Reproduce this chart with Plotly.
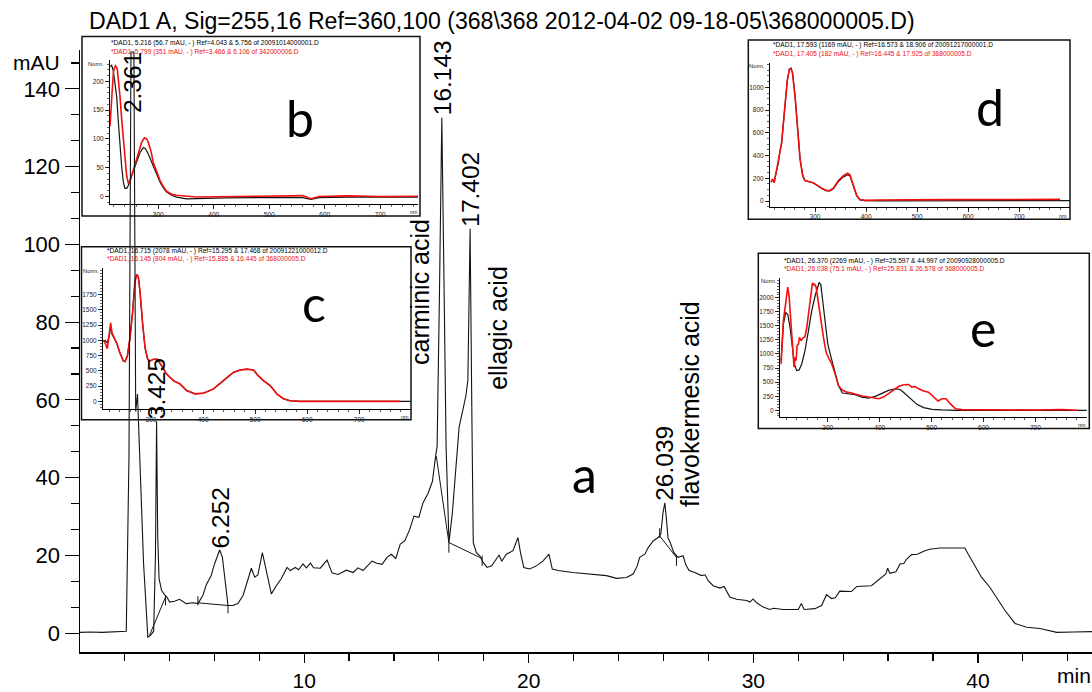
import plotly.graph_objects as go

# ---------------- main chromatogram (DAD1 A, 255 nm) ----------------
time_min = [0.0, 0.5, 1.0, 1.5, 2.08, 2.20, 2.25, 2.29, 2.42, 2.45,
            2.50, 2.58, 2.70, 2.85, 3.04, 3.15, 3.30, 3.38, 3.43, 3.48,
            3.54, 3.65, 3.80, 3.89, 4.01, 4.23, 4.45, 4.60, 4.75, 5.05,
            5.27, 5.49, 5.64, 5.86, 6.01, 6.24, 6.36, 6.49, 6.61, 6.83,
            7.05, 7.28, 7.50, 7.65, 7.80, 7.94, 8.14, 8.32, 8.54, 8.76,
            8.98, 9.24, 9.38, 9.61, 9.75, 9.95, 10.10, 10.28, 10.42, 10.72,
            11.02, 11.24, 11.51, 11.88, 12.18, 12.40, 12.62, 13.02, 13.24, 13.47,
            13.69, 13.88, 14.08, 14.28, 14.48, 14.70, 14.89, 15.11, 15.29, 15.52,
            15.71, 15.86, 15.92, 16.02, 16.13, 16.24, 16.32, 16.45, 16.60, 16.75,
            16.90, 17.05, 17.20, 17.29, 17.39, 17.47, 17.53, 17.67, 17.82, 17.97,
            18.14, 18.35, 18.56, 18.68, 18.80, 19.00, 19.30, 19.52, 19.63, 19.78,
            20.04, 20.34, 20.64, 20.90, 21.05, 21.31, 21.97, 22.86, 23.46, 23.91,
            24.35, 24.65, 24.83, 24.94, 25.17, 25.32, 25.54, 25.76, 25.88, 25.98,
            26.06, 26.12, 26.20, 26.30, 26.46, 26.65, 26.87, 27.00, 27.14, 27.39,
            27.69, 27.85, 27.99, 28.21, 28.51, 28.70, 28.80, 28.95, 29.25, 29.40,
            29.70, 29.85, 29.99, 30.15, 30.44, 30.73, 30.90, 31.33, 32.00, 32.14,
            32.26, 32.74, 33.04, 33.26, 33.48, 33.65, 33.85, 34.37, 34.60, 35.26,
            35.63, 35.90, 35.98, 36.08, 36.35, 36.53, 36.70, 36.82, 37.05, 37.30,
            37.64, 37.86, 38.31, 39.05, 39.42, 39.57, 39.79, 40.16, 40.53, 40.83,
            41.20, 41.65, 42.17, 42.76, 43.51, 44.25, 45.08]
signal_mau = [0.2, 0.3, 0.2, 0.4, 0.5, 45, 110, 149.5, 149.5, 95,
              57, 61.5, 40, 18, -1.0, -0.6, 0.5, 20, 54.5, 25,
              14, 11, 9.8, 9.3, 8.0, 8.2, 8.7, 8.2, 7.6, 7.8,
              7.6, 9.7, 12.4, 14.8, 17.8, 21.4, 19.5, 13.1, 7.1, 7.1,
              7.6, 9.7, 14.0, 16.7, 14.4, 15.0, 20.7, 15.6, 10.1, 12.2,
              14.0, 16.9, 16.1, 16.9, 16.3, 17.8, 16.8, 18.0, 16.8, 16.7,
              18.8, 15.5, 15.1, 16.2, 15.6, 16.8, 16.1, 18.5, 18.0, 17.7,
              19.5, 20.3, 19.2, 22.9, 23.7, 26.7, 30.1, 29.8, 33.5, 36.0,
              39.0, 45.8, 48.0, 85, 132.6, 85, 48, 23.3, 31, 42,
              53, 57, 61, 65, 104, 55, 23.3, 20.7, 19.9, 18.2,
              16.9, 17.3, 19.0, 20.1, 18.5, 20.3, 21.2, 24.6, 20.8, 16.9,
              16.5, 17.3, 18.6, 20.3, 16.5, 16.1, 15.6, 15.2, 14.8, 14.1,
              14.3, 15.2, 17.3, 19.5, 20.3, 22.0, 23.7, 24.6, 25.5, 31,
              33.5, 30, 24.5, 23.3, 20.7, 19.5, 19.9, 17.5, 16.1, 15.6,
              14.8, 15.0, 13.5, 12.2, 11.6, 12.0, 11.0, 9.3, 8.7, 8.6,
              8.4, 8.0, 8.8, 7.8, 6.7, 6.1, 6.4, 6.1, 6.1, 7.6,
              6.1, 6.3, 7.1, 9.9, 8.9, 9.1, 10.8, 10.7, 12.0, 12.2,
              14.0, 15.2, 16.7, 15.4, 15.8, 17.8, 17.9, 19.0, 20.2, 20.3,
              21.2, 21.6, 21.9, 21.9, 21.9, 20.3, 18.2, 14.4, 11.8, 9.3,
              5.9, 2.5, 1.5, 1.2, 0.2, 0.3, 0.4]

# integration baselines (start -> end of integrated peaks)
base_t = [3.12, 3.83, None, 5.27, 6.61, None, 15.885, 16.445, None, 16.445, 17.925, None, 25.831, 26.578]
base_y = [-0.5, 9.3, None, 7.8, 7.1, None, 45.5, 23.3, None, 23.3, 19.2, None, 25.0, 19.5]
# peak start / end tick marks
mark_t = [3.83, 3.83, None, 5.27, 5.27, None, 6.61, 6.61, None, 16.445, 16.445, None,
          17.925, 17.925, None, 25.831, 25.831, None, 26.578, 26.578]
mark_y = [9.7, 7.1, None, 9.5, 7.1, None, 7.1, 5.1, None, 23.3, 20.7, None,
          19.9, 17.3, None, 27.0, 24.5, None, 19.9, 17.3]

peak_rt = [2.361, 3.425, 6.252, 16.143, 17.402, 26.039]
peak_top = [150.0, 54.5, 21.4, 132.6, 104.0, 33.5]
peak_text = ["2.361", "3.425", "6.252", "16.143", "17.402", "26.039"]

compound_names = ["carminic acid", "ellagic acid", "flavokermesic acid"]
compound_t = [15.19, 18.62, 27.17]
compound_y = [68.4, 62.0, 31.9]

x_ticks = [10, 20, 30, 40]
y_ticks = [0, 20, 40, 60, 80, 100, 120, 140]

# ---------------- inset b : UV-Vis spectra ----------------
b_black_nm = [213, 216, 219, 222, 225, 228, 231, 234, 237, 240, 243, 246, 252, 261, 267, 273, 277, 282,
              287, 291, 297, 303, 309, 315, 324, 333, 351, 380, 420, 480, 540, 560, 575, 590, 640, 700, 771]
b_black_val = [226, 228, 218, 200, 174, 130, 88, 52, 25, 14, 14, 19, 36, 59, 76, 85, 83, 74,
               62, 51, 37, 25, 15, 7.5, 2, -1, -4, -3, -2.5, -2, -1.5, -2, -5, -2, -1, -1.5, -1]
b_red_nm = [213, 215, 217, 219, 221, 223, 226, 228, 231, 234, 237, 240, 243, 246, 249, 252, 258, 264,
            270, 275, 279, 282, 287, 291, 297, 303, 309, 315, 324, 333, 369, 420, 480, 540, 560, 575,
            590, 640, 700, 771]
b_red_val = [122, 160, 195, 215, 224, 227, 222, 205, 174, 135, 99, 62, 36, 23, 27, 36, 55, 75,
             94, 102, 100, 94, 78, 59, 42, 28, 17, 9, 4, 2, -1, 0, 0.5, 1, 1.5, -4,
             0, 1, 0, 0.5]

# ---------------- inset c ----------------
c_red_nm = [208, 211.5, 216, 220, 222.4, 225, 230.8, 235, 240, 246.8, 250, 254.5, 259.6, 264.7, 269,
            272.4, 275.6, 278.8, 284, 288.5, 293.6, 298, 304.5, 312, 320.5, 330, 343, 355.8, 368.6,
            384.6, 400.6, 420, 439, 458, 471, 484, 497, 506, 516, 529, 541.7, 554.5, 567, 586.5, 779]
c_red_val = [1000, 961, 864, 1096, 1285, 1123, 1015, 934, 799, 664, 653, 745, 1042, 1474, 1960,
             2079, 2041, 1798, 1258, 880, 691, 664, 691, 691, 583, 448, 340, 286, 178,
             124, 135, 205, 340, 475, 513, 529, 513, 421, 340, 259, 124, 43, 11, 0, 0]
c_black_nm = [208, 212, 216, 220, 222.4, 225, 230.8, 235, 240, 246.8, 250, 254.5, 259.6, 264.7, 269,
              272.4, 275.6, 278.8, 284, 288.5, 293.6, 298, 304.5, 312, 320.5, 330, 343, 355.8, 368.6,
              384.6, 400.6, 420, 439, 458, 471, 484, 497, 506, 516, 529, 541.7, 554.5, 567, 586.5, 799]
c_black_val = [990, 1000, 960, 1080, 1230, 1100, 1010, 930, 795, 662, 650, 740, 1040, 1470, 1955,
               2078, 2040, 1795, 1255, 878, 690, 662, 690, 690, 580, 445, 338, 284, 176,
               122, 133, 203, 338, 473, 511, 527, 511, 419, 338, 257, 122, 41, 10, 0, 0]

# ---------------- inset d ----------------
d_red_nm = [213.7, 217, 220, 224.8, 228, 231.4, 234.6, 238, 241, 245.7, 249.7, 253, 256, 260.8, 266,
            270.6, 275.8, 280, 287, 296.7, 303, 313, 323, 329, 336, 345.8, 355.6, 364, 368.6, 375,
            381.7, 388, 398, 424, 489.5, 555, 780]
d_red_val = [165, 194, 160, 281, 339, 455, 513, 687, 861, 1064, 1157, 1166, 1122, 919, 629,
             368, 223, 180, 171, 160, 142, 113, 93, 93, 113, 180, 223, 244, 229, 136,
             49, 14, 6, 9, 12, 12, 14]
d_black_nm = [213.7, 217, 220, 224.8, 228, 231.4, 234.6, 238, 241, 245.7, 249.7, 253, 256, 260.8, 266,
              270.6, 275.8, 280, 287, 296.7, 303, 313, 323, 329, 336, 345.8, 355.6, 364, 368.6, 375,
              381.7, 388, 398, 424, 489.5, 555, 799]
d_black_val = [175, 180, 175, 270, 330, 440, 510, 680, 850, 1058, 1160, 1169, 1128, 930, 640,
               375, 228, 182, 172, 158, 140, 110, 90, 90, 108, 172, 212, 232, 220, 130,
               45, 10, 3, 2, 2, 3, 3]

# ---------------- inset e ----------------
e_black_nm = [210, 214.4, 219, 222.8, 227.3, 231.8, 235.6, 240, 244.7, 249.8,
              256, 262.7, 269, 275.5, 279.4, 283.3, 286.5, 290.3, 294.9, 300,
              306.4, 314, 320.6, 328, 340, 352.8, 365.6, 378.5, 391.4, 404,
              417, 430, 439.6, 449, 459, 471.8, 484.7, 500.8, 520, 545.8, 799]
e_black_val = [882, 1529, 1735, 1705, 1470, 1117, 823, 706, 717, 823,
               1058, 1411, 1764, 2029, 2146, 2269, 2234, 1940, 1529, 1176,
               941, 647, 441, 306, 294, 276, 235, 218, 247, 306,
               353, 382, 370, 294, 206, 106, 47, 18, 6, 0, 0]
e_red_nm = [210, 214.4, 219, 222.8, 225.4, 229, 231.8, 235, 237, 238.9,
            240.8, 243.4, 245.3, 248.5, 251.7, 256, 259.5, 262.7, 267.2, 270.4,
            272.5, 274.3, 277.5, 282, 286.5, 291.6, 296.8, 302.6, 307.7, 314,
            320.6, 327, 336.7, 346, 356, 365.6, 378.5, 391.4, 397.8, 407.5,
            417, 426.8, 436.4, 446, 455.7, 462, 468.6, 475, 484.7, 494.3,
            504, 512.4, 520, 527.8, 536, 545.8, 558.7, 600, 650, 700,
            750, 780.7]
e_red_val = [823, 1588, 1911, 2187, 2029, 1529, 1176, 764, 941, 882,
             1147, 1176, 1294, 1235, 1282, 1305, 1470, 1705, 2058, 2264,
             2220, 2246, 2187, 1940, 1617, 1294, 1029, 911, 823, 647,
             441, 365, 323, 306, 276, 253, 235, 223, 206, 235,
             294, 365, 423, 453, 459, 412, 423, 382, 341, 323,
             235, 165, 206, 206, 118, 29, 12, 8, 12, 5,
             15, 0]

inset_headers = {
    "b": ["*DAD1, 5.216 (56.7 mAU, - ) Ref=4.043 & 5.756 of 20091014000001.D",
          "*DAD1, 5.799 (351 mAU, - ) Ref=3.466 & 6.106 of 342000006.D"],
    "c": ["*DAD1, 16.715 (2078 mAU, - ) Ref=15.295 & 17.468 of 20091221000012.D",
          "*DAD1, 16.145 (804 mAU, - ) Ref=15.885 & 16.445 of 368000005.D"],
    "d": ["*DAD1, 17.593 (1169 mAU, - ) Ref=16.573 & 18.906 of 20091217000001.D",
          "*DAD1, 17.405 (182 mAU, - ) Ref=16.445 & 17.925 of 368000005.D"],
    "e": ["*DAD1, 26.370 (2269 mAU, - ) Ref=25.597 & 44.997 of 20090928000005.D",
          "*DAD1, 26.038 (75.1 mAU, - ) Ref=25.831 & 26.578 of 368000005.D"],
}
title_text = "DAD1 A, Sig=255,16 Ref=360,100 (368\\368 2012-04-02 09-18-05\\368000005.D)"

for a, b in [(time_min, signal_mau), (b_black_nm, b_black_val), (b_red_nm, b_red_val),
             (c_red_nm, c_red_val), (c_black_nm, c_black_val), (d_red_nm, d_red_val),
             (d_black_nm, d_black_val), (e_black_nm, e_black_val), (e_red_nm, e_red_val)]:
    assert len(a) == len(b), (len(a), len(b))

# ---------------- geometry helpers (pixel -> paper) ----------------
W, H = 1092, 692
L, R, T, B = 80, 1092, 50, 657


def xd(px):
    return (px - L) / (R - L)


def yd(py):
    return (B - py) / (B - T)


FONT = "Liberation Sans, Arial, sans-serif"
BLACK = "#141414"
RED = "#f01010"

fig = go.Figure()

# inset subplots first (drawn underneath the chromatogram)
insets = [
    ("b", "", (110, 418, 205, 60), [213, 768], [-12.6, 237.4], [0, 50, 100, 150, 200], 10,
     (b_black_nm, b_black_val), (b_red_nm, b_red_val)),
    ("c", "2", (103, 411, 412, 270), [207.7, 799.5], [-125, 2182],
     [0, 250, 500, 750, 1000, 1250, 1500, 1750], 50,
     (c_black_nm, c_black_val), (c_red_nm, c_red_val)),
    ("d", "3", (770, 1070, 208, 63), [211.8, 799.5], [-50, 1215],
     [0, 200, 400, 600, 800, 1000], 50,
     (d_black_nm, d_black_val), (d_red_nm, d_red_val)),
    ("e", "4", (780, 1087, 420, 280), [207.9, 799.5], [-118, 2347],
     [0, 250, 500, 750, 1000, 1250, 1500, 1750, 2000], 50,
     (e_black_nm, e_black_val), (e_red_nm, e_red_val)),
]

layout_axes = {}
for key, sfx, box, xr, yr, yt, ymin, blk, red in insets:
    xa, ya = "x" + sfx, "y" + sfx
    fig.add_trace(go.Scatter(x=blk[0], y=blk[1], mode="lines", xaxis=xa, yaxis=ya,
                             line=dict(color=BLACK, width=1.2), hoverinfo="skip"))
    fig.add_trace(go.Scatter(x=red[0], y=red[1], mode="lines", xaxis=xa, yaxis=ya,
                             line=dict(color=RED, width=1.6), hoverinfo="skip"))
    x0, x1, yb, ytp = box
    common = dict(showline=True, linecolor="black", linewidth=1, ticks="outside", ticklen=4,
                  tickwidth=0.8, tickcolor="black", showgrid=False, zeroline=False,
                  tickfont=dict(family=FONT, size=6.5, color="#222"), fixedrange=True)
    layout_axes["xaxis" + sfx] = dict(common, domain=[xd(x0), xd(x1)], anchor=ya, range=xr,
                                     tickvals=[300, 400, 500, 600, 700],
                                     minor=dict(dtick=20, tick0=0, ticks="outside", ticklen=2,
                                                tickcolor="black", tickwidth=0.6))
    layout_axes["yaxis" + sfx] = dict(common, domain=[yd(yb), yd(ytp)], anchor=xa, range=yr,
                                     tickvals=yt,
                                     minor=dict(dtick=ymin, tick0=0, ticks="outside", ticklen=2,
                                                tickcolor="black", tickwidth=0.6))

# main chromatogram on top
fig.add_trace(go.Scatter(x=time_min, y=signal_mau, mode="lines", xaxis="x5", yaxis="y5",
                         line=dict(color=BLACK, width=1.1), hoverinfo="skip"))
fig.add_trace(go.Scatter(x=base_t, y=base_y, mode="lines", xaxis="x5", yaxis="y5",
                         line=dict(color=BLACK, width=1), connectgaps=False, hoverinfo="skip"))
fig.add_trace(go.Scatter(x=mark_t, y=mark_y, mode="lines", xaxis="x5", yaxis="y5",
                         line=dict(color=BLACK, width=1), connectgaps=False, hoverinfo="skip"))

layout_axes["xaxis5"] = dict(domain=[0, 1], anchor="y5", range=[0.02, 45.08], showline=True,
                             linecolor="black", linewidth=1.5, ticks="outside", ticklen=9,
                             tickwidth=1.2, tickcolor="black", tickvals=x_ticks,
                             ticktext=[str(v) for v in x_ticks],
                             tickfont=dict(family=FONT, size=21, color="black"),
                             minor=dict(dtick=2, tick0=0, ticks="outside", ticklen=7,
                                        tickcolor="black", tickwidth=1.2),
                             showgrid=False, zeroline=False, fixedrange=True)
layout_axes["yaxis5"] = dict(domain=[0, 1], anchor="x5", range=[-4.85, 150], showline=True,
                             linecolor="black", linewidth=1.5, ticks="outside", ticklen=14,
                             tickwidth=1.2, tickcolor="black", tickvals=y_ticks,
                             ticktext=[str(v) for v in y_ticks],
                             tickfont=dict(family=FONT, size=22, color="black"),
                             minor=dict(dtick=20 / 3, tick0=0, ticks="outside", ticklen=8,
                                        tickcolor="black", tickwidth=1.2),
                             showgrid=False, zeroline=False, fixedrange=True)

annotations = []
# retention-time labels, rotated, starting just above each apex
for rt, top, txt in zip(peak_rt, peak_top, peak_text):
    clipped = top >= 150
    annotations.append(dict(x=rt, y=top, xref="x5", yref="y5", text=txt, showarrow=False,
                            textangle=-90, xanchor="center",
                            yanchor="top" if clipped else "bottom",
                            font=dict(family=FONT, size=24.5, color="black")))
for name, t, yv in zip(compound_names, compound_t, compound_y):
    annotations.append(dict(x=t, y=yv, xref="x5", yref="y5", text=name, showarrow=False,
                            textangle=-90, xanchor="center", yanchor="bottom",
                            font=dict(family=FONT, size=25, color="black")))

# panel letters
LETTER_FONT = dict(family="Lato, Open Sans, sans-serif", size=50, color="black")
annotations.append(dict(x=22.49, y=40.9, xref="x5", yref="y5", text="a", showarrow=False,
                        xanchor="center", yanchor="middle", font=LETTER_FONT))
for letter, (px, py) in {"b": (299.5, 118.6), "c": (313.5, 305.6),
                         "d": (990, 107.6), "e": (983, 330.6)}.items():
    annotations.append(dict(x=xd(px), y=yd(py), xref="paper", yref="paper", text=letter,
                            showarrow=False, xanchor="center", yanchor="middle", font=LETTER_FONT))

# inset header lines, Norm. and nm labels
header_pos = {"b": (109.3, 42.7, 51.7), "c": (105, 252.3, 261),
              "d": (771, 45, 54), "e": (781.7, 262.7, 270.7)}
norm_pos = {"b": (96, 64), "c": (91, 273), "d": (757, 66), "e": (769, 283)}
nm_pos = {"b": (414, 213), "c": (405, 420), "d": (1063, 217), "e": (1082, 428)}
for key, (px, py1, py2) in header_pos.items():
    l1, l2 = inset_headers[key]
    annotations.append(dict(x=xd(px), y=yd(py1), xref="paper", yref="paper", text=l1,
                            showarrow=False, xanchor="left", yanchor="middle",
                            font=dict(family=FONT, size=6.6, color="black")))
    annotations.append(dict(x=xd(px), y=yd(py2), xref="paper", yref="paper", text=l2,
                            showarrow=False, xanchor="left", yanchor="middle",
                            font=dict(family=FONT, size=6.6, color=RED)))
    nx, ny = norm_pos[key]
    annotations.append(dict(x=xd(nx), y=yd(ny), xref="paper", yref="paper", text="Norm.",
                            showarrow=False, xanchor="center", yanchor="middle",
                            font=dict(family=FONT, size=5.8, color="#222")))
    mx, my = nm_pos[key]
    annotations.append(dict(x=xd(mx), y=yd(my), xref="paper", yref="paper", text="nm",
                            showarrow=False, xanchor="center", yanchor="middle",
                            font=dict(family=FONT, size=5.5, color="#222")))

# title and axis unit labels
annotations.append(dict(x=xd(87), y=yd(20.5), xref="paper", yref="paper", text=title_text,
                        showarrow=False, xanchor="left", yanchor="middle",
                        font=dict(family=FONT, size=23.1, color="black")))
annotations.append(dict(x=xd(36), y=yd(62.5), xref="paper", yref="paper", text="mAU",
                        showarrow=False, xanchor="center", yanchor="middle",
                        font=dict(family=FONT, size=21, color="black")))
annotations.append(dict(x=xd(1074), y=yd(681), xref="paper", yref="paper", text="min",
                        showarrow=False, xanchor="center", yanchor="middle",
                        font=dict(family=FONT, size=21, color="black")))

# inset frames
boxes = {"b": (82, 36.5, 420, 217.5), "c": (81.5, 248.3, 411, 422.7),
         "d": (748.3, 40, 1070, 220.7), "e": (758.3, 255, 1089.3, 431.7)}
shapes = []
for key, (bx0, by0, bx1, by1) in boxes.items():
    shapes.append(dict(type="rect", xref="paper", yref="paper", x0=xd(bx0), x1=xd(bx1),
                       y0=yd(by1), y1=yd(by0), line=dict(color="#111", width=1.5),
                       fillcolor="rgba(0,0,0,0)", layer="below"))

fig.update_layout(width=W, height=H, margin=dict(l=L, r=W - R, t=T, b=H - B),
                  paper_bgcolor="white", plot_bgcolor="rgba(0,0,0,0)", showlegend=False,
                  annotations=annotations, shapes=shapes, **layout_axes)

fig.write_html("out.html", config={"displayModeBar": False, "staticPlot": True},
               post_script="document.body.style.margin='0';document.body.style.overflow='hidden';")
